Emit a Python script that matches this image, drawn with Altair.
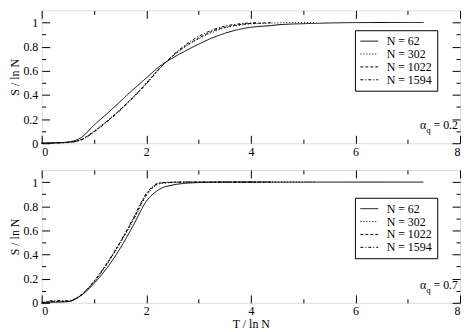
import altair as alt
import pandas as pd

FONT = "Liberation Serif"

T = [0.0, 0.25, 0.5, 0.75, 1.0, 1.25, 1.5, 1.75, 2.0, 2.25, 2.5, 2.75, 3.0,
     3.25, 3.5, 3.75, 4.0, 4.1, 4.4, 4.5, 5.0, 5.25, 5.5, 6.0, 7.0, 7.3]

series_labels = ["N = 62", "N = 302", "N = 1022", "N = 1594"]

# alpha_q = 0.2
top_62 = [0.0, 0.003, 0.01, 0.045, 0.15, 0.245, 0.345, 0.445, 0.54, 0.635, 0.705, 0.765, 0.82,
          0.87, 0.91, 0.94, 0.96, 0.965, 0.975, 0.98, 0.99, 0.993, 0.996, 0.999, 1.0, 1.0]
top_302 = [0.0, 0.003, 0.008, 0.03, 0.10, 0.185, 0.28, 0.385, 0.50, 0.62, 0.72, 0.80, 0.865,
           0.915, 0.955, 0.975, 0.988, 0.99, 0.995, 0.997, 1.0, 1.0, None, None, None, None]
top_1022 = [0.0, 0.003, 0.007, 0.028, 0.097, 0.182, 0.277, 0.382, 0.495, 0.618, 0.72, 0.805, 0.87,
            0.925, 0.96, 0.98, 0.992, 0.994, 0.998, None, None, None, None, None, None, None]
top_1594 = [0.0, 0.002, 0.006, 0.026, 0.093, 0.178, 0.272, 0.378, 0.49, 0.615, 0.725, 0.815, 0.885,
            0.935, 0.97, 0.987, 0.996, 0.998, None, None, None, None, None, None, None, None]

# alpha_q = 0.7
bot_62 = [0.0, 0.005, 0.01, 0.06, 0.16, 0.29, 0.45, 0.64, 0.84, 0.94, 0.975, 0.99, 0.996,
          0.998, 1.0, 1.0, 1.0, 1.0, 1.0, 1.0, 1.0, 1.0, 1.0, 1.0, 1.0, 1.0]
bot_302 = [0.0, 0.01, 0.01, 0.06, 0.17, 0.32, 0.49, 0.68, 0.885, 0.985, 0.997, 1.0, 1.0,
           1.0, 1.0, 1.0, 1.0, 1.0, 1.0, 1.0, 1.0, 1.0, None, None, None, None]
bot_1022 = [0.0, 0.012, 0.012, 0.065, 0.175, 0.325, 0.50, 0.69, 0.895, 0.99, 0.998, 1.0, 1.0,
            1.0, 1.0, 1.0, 1.0, 1.0, 1.0, None, None, None, None, None, None, None]
bot_1594 = [0.0, 0.02, 0.018, 0.065, 0.18, 0.33, 0.505, 0.70, 0.905, 0.993, 0.999, 1.0, 1.0,
            1.0, 1.0, 1.0, 1.0, 1.0, None, None, None, None, None, None, None, None]

x_major = [0, 2, 4, 6, 8]
x_minor = [1, 3, 5, 7]
y_major = [0, 0.2, 0.4, 0.6, 0.8, 1.0]
y_minor = [0.1, 0.3, 0.5, 0.7, 0.9]

W = 422
H = 134

Y_LABEL_EXPR = "datum.value == 0 ? '0' : (datum.value == 1 ? '1' : format(datum.value, '.1f'))"


def long_df(cols):
    rows = []
    for lab, vals in zip(series_labels, cols):
        for t, s in zip(T, vals):
            if s is not None:
                rows.append({"T": t, "S": s, "N": lab})
    return pd.DataFrame(rows)


def panel(df, alpha_val, show_xtitle, legend_y):
    xs = alt.Scale(domain=[0, 8], nice=False, zero=False)
    ys = alt.Scale(domain=[0, 1.1], nice=False)
    base = alt.Chart(df)

    def axis(orient, vals, size, labels, title=None):
        kw = dict(orient=orient, values=vals, tickSize=size, offset=-size, domain=False,
                  grid=False, labels=labels, tickColor="black", tickWidth=1,
                  labelFont=FONT, labelFontSize=12, labelColor="black",
                  titleFont=FONT, titleFontSize=12, titleFontWeight="normal",
                  titleColor="black")
        if labels:
            kw["labelPadding"] = 3 if orient in ("bottom", "top") else 4
            if orient == "left":
                kw["labelExpr"] = Y_LABEL_EXPR
        if title:
            kw["title"] = title
            kw["titlePadding"] = 2 if orient == "bottom" else 1
        else:
            kw["title"] = None
        return alt.Axis(**kw)

    main = base.mark_line(color="black", strokeWidth=1, interpolate="monotone").encode(
        x=alt.X("T:Q", scale=xs,
                axis=axis("bottom", x_major, 8, True, "T / ln N" if show_xtitle else None)),
        y=alt.Y("S:Q", scale=ys, axis=axis("left", y_major, 8, True, "S / ln N")),
        strokeDash=alt.StrokeDash(
            "N:N", sort=series_labels,
            scale=alt.Scale(domain=series_labels,
                            range=[[1, 0], [1, 2], [3, 2], [3, 2, 1, 2]]),
            legend=alt.Legend(orient="none", legendX=W - 106, legendY=legend_y, title=None,
                              symbolType="stroke", symbolSize=324, symbolStrokeWidth=1,
                              symbolStrokeColor="black", labelFont=FONT, labelFontSize=12,
                              labelColor="black", strokeColor="black", fillColor="white",
                              padding=5, rowPadding=1, labelOffset=8, clipHeight=12,
                              cornerRadius=0)),
        detail="N:N",
    )

    def ticks_layer(xo, xv, xsz, yo, yv, ysz):
        return base.mark_point(opacity=0, size=0).encode(
            x=alt.X("T:Q", scale=xs, axis=axis(xo, xv, xsz, False)),
            y=alt.Y("S:Q", scale=ys, axis=axis(yo, yv, ysz, False)),
        )

    l2 = ticks_layer("bottom", x_minor, 4, "left", y_minor, 4)
    l3 = ticks_layer("top", x_major, 8, "right", y_major, 8)
    l4 = ticks_layer("top", x_minor, 4, "right", y_minor, 4)

    lab = pd.DataFrame({"t": ["= " + alpha_val]})
    t1 = alt.Chart(lab).mark_text(align="right", baseline="alphabetic", font=FONT,
                                  fontSize=12, color="black").encode(
        x=alt.value(W - 2), y=alt.value(H - 14), text="t:N")
    t2 = alt.Chart(pd.DataFrame({"t": ["α"]})).mark_text(
        align="right", baseline="alphabetic", font=FONT, fontSize=12, color="black").encode(
        x=alt.value(W - 34), y=alt.value(H - 14), text="t:N")
    t3 = alt.Chart(pd.DataFrame({"t": ["q"]})).mark_text(
        align="left", baseline="alphabetic", font=FONT, fontSize=9, color="black").encode(
        x=alt.value(W - 34), y=alt.value(H - 10), text="t:N")

    return alt.layer(main, l2, l3, l4, t1, t2, t3).resolve_axis(
        x="independent", y="independent").properties(width=W, height=H)


top = panel(long_df([top_62, top_302, top_1022, top_1594]), "0.2", False, 20)
bottom = panel(long_df([bot_62, bot_302, bot_1022, bot_1594]), "0.7", True, 28)

chart = alt.vconcat(top, bottom, spacing=27, bounds="flush").resolve_scale(
    strokeDash="independent").resolve_legend(strokeDash="independent").properties(
    padding=0).configure_view(stroke="black", strokeWidth=1).configure(font=FONT)

chart.save("out.html", embed_options={"renderer": "svg", "actions": False})
